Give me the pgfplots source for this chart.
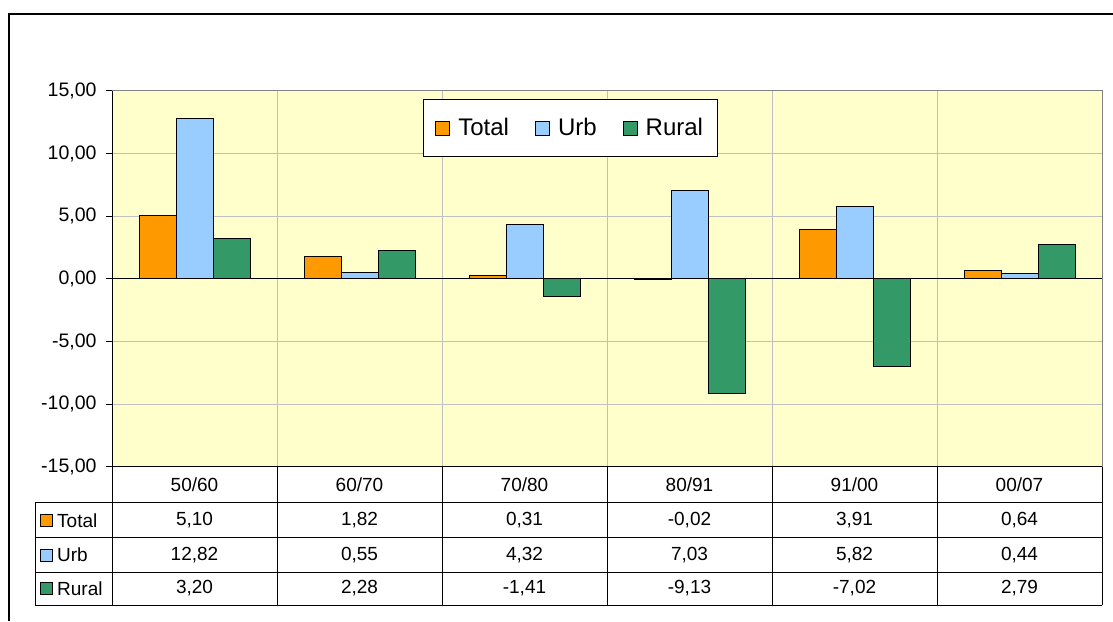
\documentclass[border=0pt]{standalone}
\usepackage{pgfplots}
\pgfplotsset{compat=1.18}
\usepackage{fontspec}
\setmainfont{Liberation Sans}
\definecolor{cTotal}{HTML}{FF9900}
\definecolor{cUrb}{HTML}{99CCFF}
\definecolor{cRural}{HTML}{339966}
\definecolor{bgc}{HTML}{FFFFCC}
\definecolor{gridc}{HTML}{C0C0C0}
\begin{document}
\fontsize{19}{23}\selectfont
\begin{tikzpicture}[x=1pt,y=1pt]
\path[use as bounding box] (0,0) rectangle (1113,621);
\draw[line width=2.5pt] (9,0) -- (9,607) -- (1113,607);
\begin{axis}[
  at={(112pt,154pt)}, anchor=south west,
  width=990pt, height=376pt, scale only axis,
  xmin=-0.5, xmax=5.5, ymin=-15, ymax=15,
  ybar=0pt, bar width=37pt,
  axis background/.style={fill=bgc},
  axis line style={draw=black!50, line width=1pt},
  xtick={0.5,1.5,2.5,3.5,4.5}, xticklabels={},
  xmajorgrids, x tick style={draw=none},
  ytick={-15,-10,...,15}, ymajorgrids,
  grid style={draw=gridc, line width=1pt},
  ytick pos=left, tick align=outside, major tick length=6pt,
  y tick style={black, line width=1pt},
  yticklabel style={font=\fontsize{19.5}{23}\selectfont, xshift=-3pt},
  /pgf/number format/.cd, fixed, fixed zerofill, precision=2, use comma, assume math mode=true,
  /pgfplots/.cd,
  legend columns=3,
  legend image code/.code={\draw[#1, draw=black, line width=1pt] (0pt,-7pt) rectangle (14pt,7pt);},
  legend style={at={(0.314,0.979)}, anchor=north west, draw=black, line width=1pt, fill=white,
    font=\fontsize{24}{28}\selectfont, inner xsep=12pt, inner ysep=16.5pt,
    /tikz/every odd column/.append style={column sep=6pt},
    /tikz/every even column/.append style={column sep=24pt}},
  clip=false,
]
\addplot[fill=cTotal, draw=black, line width=1pt] coordinates {(0,5.10) (1,1.82) (2,0.31) (3,-0.02) (4,3.91) (5,0.64)};
\addplot[fill=cUrb, draw=black, line width=1pt] coordinates {(0,12.82) (1,0.55) (2,4.32) (3,7.03) (4,5.82) (5,0.44)};
\addplot[fill=cRural, draw=black, line width=1pt] coordinates {(0,3.20) (1,2.28) (2,-1.41) (3,-9.13) (4,-7.02) (5,2.79)};
\legend{Total,Urb,Rural}
\draw[black, line width=1pt] (axis cs:-0.5,0) -- (axis cs:5.5,0);
\draw[black, line width=1pt] (axis cs:-0.5,-15) -- (axis cs:-0.5,15);
\end{axis}
% data table
\begin{scope}[line width=1pt]
\draw (112,154) -- (1102,154);
\foreach \yy in {118,83,49,16} \draw (35,\yy) -- (1102,\yy);
\draw (35,16) -- (35,118);
\foreach \xx in {112,277,442,607,772,937,1102} \draw (\xx,16) -- (\xx,154);
\end{scope}
\foreach \lab [count=\i from 0] in {50/60,60/70,70/80,80/91,91/00,00/07}
  \node at (194.5+165*\i,136) {\lab};
\foreach \v [count=\i from 0] in {{5,10},{1,82},{0,31},{-0,02},{3,91},{0,64}}
  \node at (194.5+165*\i,100.5) {\v};
\foreach \v [count=\i from 0] in {{12,82},{0,55},{4,32},{7,03},{5,82},{0,44}}
  \node at (194.5+165*\i,66) {\v};
\foreach \v [count=\i from 0] in {{3,20},{2,28},{-1,41},{-9,13},{-7,02},{2,79}}
  \node at (194.5+165*\i,32.5) {\v};
\draw[fill=cTotal, line width=1pt] (40,94.5) rectangle (52,106.5);
\node[anchor=west, inner sep=0pt] at (57,100.5) {Total};
\draw[fill=cUrb, line width=1pt] (40,60) rectangle (52,72);
\node[anchor=west, inner sep=0pt] at (57,66) {Urb};
\draw[fill=cRural, line width=1pt] (40,26.5) rectangle (52,38.5);
\node[anchor=west, inner sep=0pt] at (57,32.5) {Rural};
\end{tikzpicture}
\end{document}
